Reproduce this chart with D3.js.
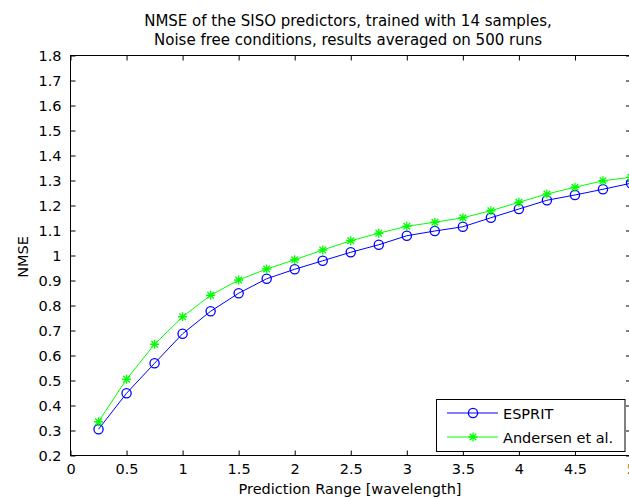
<!DOCTYPE html>
<html><head><meta charset="utf-8">
<script src="https://cdn.jsdelivr.net/npm/d3@7"></script>
<style>body{margin:0;background:#fff}svg{display:block;font-family:"DejaVu Sans",sans-serif}</style>
</head><body><svg id="c" width="629" height="499"></svg>
<script>
const xValues = [0.25,0.5,0.75,1,1.25,1.5,1.75,2,2.25,2.5,2.75,3,3.25,3.5,3.75,4,4.25,4.5,4.75,5];
const espritValues = [0.305,0.449,0.569,0.687,0.777,0.849,0.907,0.945,0.979,1.013,1.043,1.079,1.098,1.115,1.151,1.186,1.221,1.242,1.265,1.289];
const andersenValues = [0.335,0.505,0.645,0.755,0.841,0.902,0.946,0.983,1.022,1.059,1.089,1.117,1.133,1.151,1.179,1.213,1.246,1.273,1.299,1.313];
const xTicks = [0,0.5,1,1.5,2,2.5,3,3.5,4,4.5,5];
const yTicks = [0.2,0.3,0.4,0.5,0.6,0.7,0.8,0.9,1,1.1,1.2,1.3,1.4,1.5,1.6,1.7,1.8];
const seriesNames = ["ESPRIT","Andersen et al."];
const titleLines = ["NMSE of the SISO predictors, trained with 14 samples,","Noise free conditions, results averaged on 500 runs"];

const svg = d3.select("#c");
const L=70.5, R=631, T=55.5, B=455.5;
const x = d3.scaleLinear().domain([0,5]).range([L,R]);
const y = d3.scaleLinear().domain([0.2,1.8]).range([B,T]);
const fs = 14.5;
const FF = "DejaVu Sans, sans-serif";

// box
svg.append("rect").attr("x",L).attr("y",T).attr("width",R-L).attr("height",B-T).attr("fill","none").attr("stroke","#000").attr("stroke-width",1);

// axes with inward ticks
const fmt = d=>String(d);
const gx = svg.append("g").attr("transform",`translate(0,${B})`).call(d3.axisBottom(x).tickValues(xTicks).tickFormat(fmt).tickSizeInner(-5).tickSizeOuter(0).tickPadding(8.5));
const gxt = svg.append("g").attr("transform",`translate(0,${T})`).call(d3.axisTop(x).tickValues(xTicks).tickFormat("").tickSizeInner(-5).tickSizeOuter(0));
const gy = svg.append("g").attr("transform",`translate(${L},0)`).call(d3.axisLeft(y).tickValues(yTicks).tickFormat(fmt).tickSizeInner(-5).tickSizeOuter(0).tickPadding(9));
const gyr = svg.append("g").attr("transform",`translate(${R},0)`).call(d3.axisRight(y).tickValues(yTicks).tickFormat("").tickSizeInner(-5).tickSizeOuter(0));
[gx,gxt,gy,gyr].forEach(g=>{
  g.select(".domain").remove();
  g.selectAll("text").attr("font-size",fs).attr("font-family",FF).attr("fill","#000");
  g.selectAll("line").attr("stroke","#000");
});

const line = d3.line().x((d,i)=>x(xValues[i])).y(d=>y(d));
svg.append("path").datum(espritValues).attr("d",line).attr("fill","none").attr("stroke","#0000ff").attr("stroke-width",1);
svg.append("path").datum(andersenValues).attr("d",line).attr("fill","none").attr("stroke","#00ff00").attr("stroke-width",1);

function circle(g,cx,cy){g.append("circle").attr("cx",cx).attr("cy",cy).attr("r",4.6).attr("fill","none").attr("stroke","#0000ff").attr("stroke-width",1.3);}
function star(g,cx,cy){
  const s=4.5, d=3.3;
  const p=`M${cx-s},${cy}L${cx+s},${cy}M${cx},${cy-s}L${cx},${cy+s}M${cx-d},${cy-d}L${cx+d},${cy+d}M${cx-d},${cy+d}L${cx+d},${cy-d}`;
  g.append("path").attr("d",p).attr("stroke","#00ff00").attr("stroke-width",1.3).attr("fill","none");
}
const mk = svg.append("g");
espritValues.forEach((v,i)=>circle(mk,x(xValues[i]),y(v)));
andersenValues.forEach((v,i)=>star(mk,x(xValues[i]),y(v)));

// title
titleLines.forEach((t,i)=>svg.append("text").attr("x",348).attr("y",26+i*18.5).attr("text-anchor","middle").attr("font-size",15).attr("font-family",FF).text(t));
svg.append("text").attr("x",350).attr("y",494).attr("text-anchor","middle").attr("font-size",fs).attr("font-family",FF).text("Prediction Range [wavelength]");
svg.append("text").attr("transform","translate(28,257) rotate(-90)").attr("text-anchor","middle").attr("font-size",fs).attr("font-family",FF).text("NMSE");

// legend
const lg = svg.append("g");
lg.append("rect").attr("x",436.5).attr("y",399.5).attr("width",188.5).attr("height",52).attr("fill","#fff").attr("stroke","#000");
[0,1].forEach(i=>{
  const yy = 413 + i*24;
  lg.append("line").attr("x1",447).attr("x2",498).attr("y1",yy).attr("y2",yy).attr("stroke",i?"#00ff00":"#0000ff");
  if(i) star(lg,473,yy); else circle(lg,473,yy);
  lg.append("text").attr("x",503).attr("y",yy+5.5).attr("font-size",fs).attr("font-family",FF).text(seriesNames[i]);
});
</script></body></html>
